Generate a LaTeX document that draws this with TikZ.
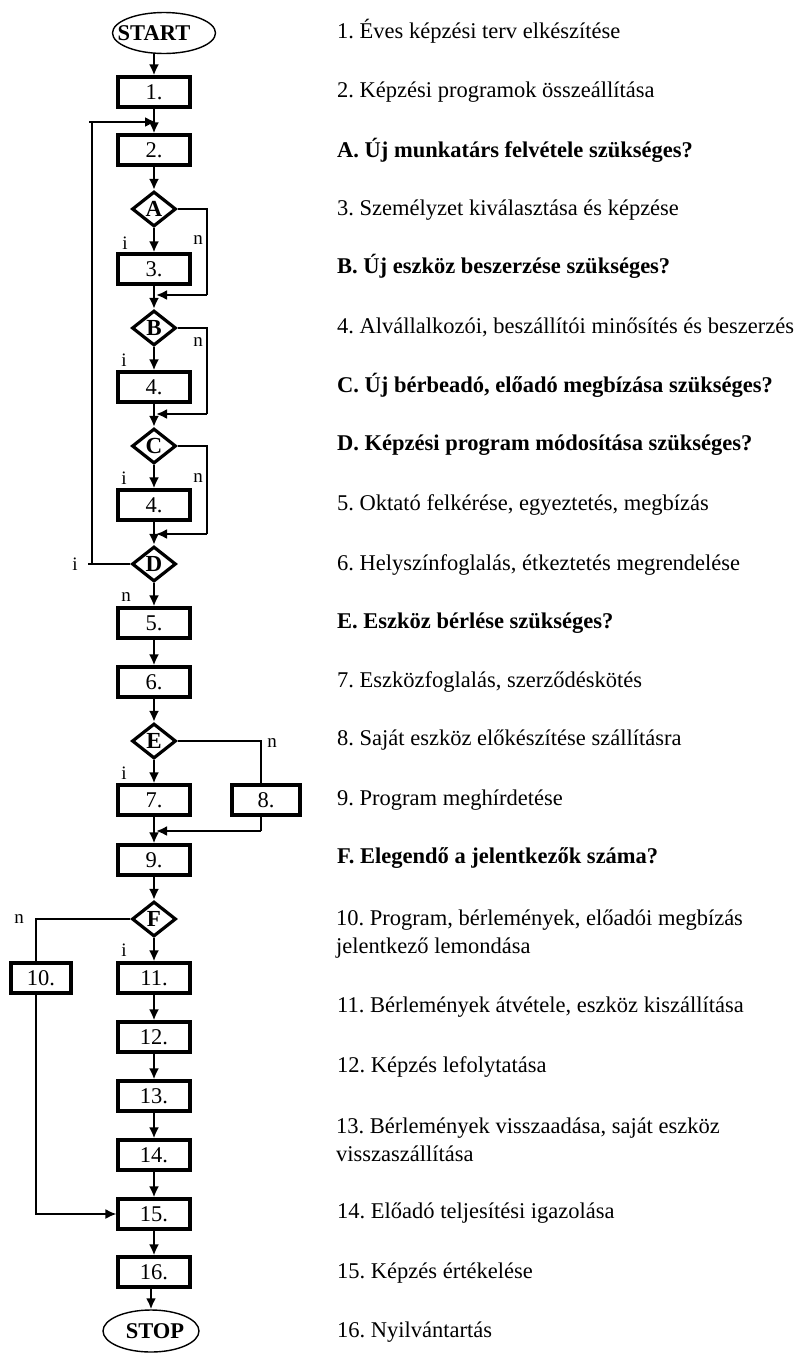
\documentclass[tikz,border=0pt]{standalone}
\usepackage{fontspec}
\setmainfont{Liberation Serif}
\usetikzlibrary{shapes.geometric,arrows.meta}
\frenchspacing
\tikzset{
  box/.style={draw, line width=3.2pt, minimum width=72pt, minimum height=30pt, inner sep=0pt, font=\fontsize{22.5}{24}\selectfont},
  dec/.style={draw, diamond, line width=3.2pt, minimum width=44pt, minimum height=35pt, inner sep=0pt, font=\bfseries\fontsize{23}{24}\selectfont},
  term/.style={draw, ellipse, line width=1.4pt, inner sep=0pt, font=\bfseries\fontsize{22.5}{24}\selectfont},
  flow/.style={->, line width=2.8pt},
  side/.style={line width=1.5pt},
  lab/.style={inner sep=0pt, font=\fontsize{19}{20}\selectfont},
  desc/.style={anchor=west, inner sep=0pt, text height=15pt, text depth=5pt, font=\fontsize{22.5}{28}\selectfont},
  desctwo/.style={anchor=west, inner sep=0pt, align=left, font=\fontsize{22.5}{28}\selectfont},
}
\begin{document}
\begin{tikzpicture}[>={Latex[length=11pt,width=10pt]}, x=1pt, y=-1pt]
    \useasboundingbox (0,0) rectangle (797,1358);
    % flow column
    \node[term, minimum width=103pt, minimum height=41pt] (start) at (164,33) {\hspace*{-20pt}START};
    \node[box] (b1) at (154,92) {1.};
    \node[box] (b2) at (154,150) {2.};
    \node[dec] (dA) at (154,209) {A};
    \node[box] (b3) at (154,269) {3.};
    \node[dec] (dB) at (154,328) {B};
    \node[box] (b4) at (154,387) {4.};
    \node[dec] (dC) at (154,446) {C};
    \node[box] (b4b) at (154,505) {4.};
    \node[dec] (dD) at (154,564) {D};
    \node[box] (b5) at (154,623) {5.};
    \node[box] (b6) at (154,682) {6.};
    \node[dec] (dE) at (154,741) {E};
    \node[box] (b7) at (154,800) {7.};
    \node[box, minimum width=68pt] (b8) at (266,800) {8.};
    \node[box] (b9) at (154,860) {9.};
    \node[dec] (dF) at (154,919) {F};
    \node[box, minimum width=60pt] (b10) at (41,978) {10.};
    \node[box] (b11) at (154,978) {11.};
    \node[box] (b12) at (154,1037) {12.};
    \node[box] (b13) at (154,1096) {13.};
    \node[box] (b14) at (154,1155) {14.};
    \node[box] (b15) at (154,1214) {15.};
    \node[box] (b16) at (154,1272) {16.};
    \node[term, minimum width=96pt, minimum height=42pt] (stop) at (151,1331) {\hspace*{8pt}STOP};

    % junctions
    \coordinate (rA) at (207,295);  \coordinate (jA) at (156,295);
    \coordinate (rB) at (207,414);  \coordinate (jB) at (156,414);
    \coordinate (rC) at (207,534);  \coordinate (jC) at (156,534);
    \coordinate (lD) at (92,564);   \coordinate (tD) at (92,122);
    \coordinate (jD) at (156,122);
    \coordinate (rE) at (261,831);  \coordinate (jE) at (156,831);

    % main arrows
    \draw[flow] (start.south -| b1) -- (b1);
    \draw[flow] (b1) -- (b2);
    \draw[flow] (b2) -- (dA);
    \draw[flow] (dA) -- (b3);
    \draw[flow] (b3) -- (dB);
    \draw[flow] (dB) -- (b4);
    \draw[flow] (b4) -- (dC);
    \draw[flow] (dC) -- (b4b);
    \draw[flow] (b4b) -- (dD);
    \draw[flow] (dD) -- (b5);
    \draw[flow] (b5) -- (b6);
    \draw[flow] (b6) -- (dE);
    \draw[flow] (dE) -- (b7);
    \draw[flow] (b7) -- (b9);
    \draw[flow] (b9) -- (dF);
    \draw[flow] (dF) -- (b11);
    \draw[flow] (b11) -- (b12);
    \draw[flow] (b12) -- (b13);
    \draw[flow] (b13) -- (b14);
    \draw[flow] (b14) -- (b15);
    \draw[flow] (b15) -- (b16);
    \draw[flow] (b16.south -| stop) -- (stop);

    % side branches
    \draw[side] (dA.east) -| (rA);
    \draw[flow] (rA) -- (jA);
    \draw[side] (dB.east) -| (rB);
    \draw[flow] (rB) -- (jB);
    \draw[side] (dC.east) -| (rC);
    \draw[flow] (rC) -- (jC);
    \draw[side] (dD.west) -- ([xshift=-4pt]lD) (lD) -- (tD);
    \draw[->, line width=2pt] ([xshift=-3pt]tD) -- (jD);
    \draw[side] (dE.east) -| ([xshift=-5pt]b8.north);
    \draw[side] ([xshift=-5pt]b8.south) -- (rE);
    \draw[flow] (rE) -- (jE);
    \draw[side] (dF.west) -| ([xshift=-5pt]b10.north);
    \draw[->, line width=1.8pt] ([xshift=-5pt]b10.south) |- (b15.west);

    % i / n labels
    \node[lab] (iA) at (125,243) {i};
    \node[lab] (nA) at (198,240) {n};
    \node[lab] (nB) at (198,342) {n};
    \node[lab] (iB) at (124,360) {i};
    \node[lab] (iC) at (124,478) {i};
    \node[lab] (nC) at (198,478) {n};
    \node[lab] (iD) at (75,564) {i};
    \node[lab] (nD) at (126,597) {n};
    \node[lab] (nE) at (272,743) {n};
    \node[lab] (iE) at (124,773) {i};
    \node[lab] (nF) at (19,919) {n};
    \node[lab] (iF) at (124,950) {i};

    % legend
    \node[desc] (t1) at (337,33) {1. Éves képzési terv elkészítése};
    \node[desc] (t2) at (337,92) {2. Képzési programok összeállítása};
    \node[desc] (tA) at (337,152) {\bfseries A. Új munkatárs felvétele szükséges?};
    \node[desc] (t3) at (337,210) {3. Személyzet kiválasztása és képzése};
    \node[desc] (tB) at (337,268) {\bfseries B. Új eszköz beszerzése szükséges?};
    \node[desc] (t4) at (337,328) {4. Alvállalkozói, beszállítói minősítés és beszerzés};
    \node[desc] (tC) at (337,387) {\bfseries C. Új bérbeadó, előadó megbízása szükséges?};
    \node[desc] (tD) at (337,445) {\bfseries D. Képzési program módosítása szükséges?};
    \node[desc] (t5) at (337,505) {5. Oktató felkérése, egyeztetés, megbízás};
    \node[desc] (t6) at (337,565) {6. Helyszínfoglalás, étkeztetés megrendelése};
    \node[desc] (tE) at (337,623) {\bfseries E. Eszköz bérlése szükséges?};
    \node[desc] (t7) at (337,682) {7. Eszközfoglalás, szerződéskötés};
    \node[desc] (t8) at (337,740) {8. Saját eszköz előkészítése szállításra};
    \node[desc] (t9) at (337,800) {9. Program meghírdetése};
    \node[desc] (tF) at (337,858) {\bfseries F. Elegendő a jelentkezők száma?};
    \node[desctwo] (t10) at (336,934) {10. Program, bérlemények, előadói megbízás\\jelentkező lemondása};
    \node[desc] (t11) at (337,1007) {11. Bérlemények átvétele, eszköz kiszállítása};
    \node[desc] (t12) at (337,1067) {12. Képzés lefolytatása};
    \node[desctwo] (t13) at (336,1140) {13. Bérlemények visszaadása, saját eszköz\\visszaszállítása};
    \node[desc] (t14) at (337,1213) {14. Előadó teljesítési igazolása};
    \node[desc] (t15) at (337,1273) {15. Képzés értékelése};
    \node[desc] (t16) at (337,1332) {16. Nyilvántartás};
\end{tikzpicture}
\end{document}
